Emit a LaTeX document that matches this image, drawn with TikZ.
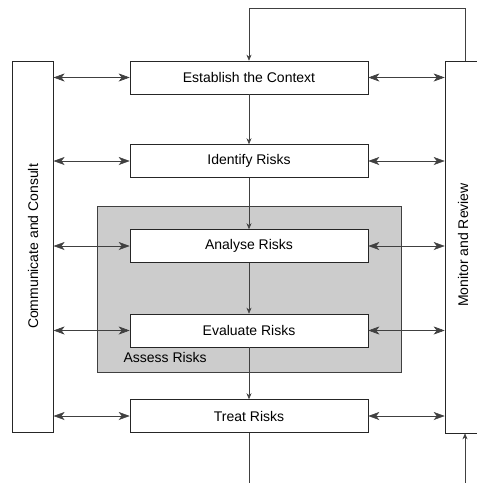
\documentclass[tikz,border=0pt]{standalone}
\usepackage{fontspec}
\setmainfont{Liberation Sans}
\usetikzlibrary{arrows.meta,positioning}

\tikzset{
  stepbox/.style={draw=black!85, line width=0.6pt, fill=white, minimum width=238pt, minimum height=33pt,
    inner sep=0pt, font=\fontsize{14}{16}\selectfont},
  sidebox/.style={draw=black!85, line width=0.6pt, fill=white, minimum height=371pt, inner sep=0pt},
  flow/.style={draw=black!75, line width=0.6pt, -{Stealth[length=6pt,width=5pt]}},
  talk/.style={draw=black!75, line width=0.6pt, {Stealth[length=11pt,width=8pt,inset=3pt]}-{Stealth[length=11pt,width=8pt,inset=3pt]}},
}

\begin{document}
\begin{tikzpicture}[x=1pt,y=-1pt]
    \clip (0,0) rectangle (477,483);
    \fill[white] (0,0) rectangle (477,483);

    % assess risks area
    \node[draw=black!75, line width=0.6pt, fill=black!20, minimum width=304pt, minimum height=166pt, inner sep=0pt]
      (assess) at (249,289) {};
    \node[anchor=west, font=\fontsize{14}{16}\selectfont] (assesslabel) at (120,357) {Assess Risks};

    % process steps
    \node[stepbox] (est) at (249,77.5) {Establish the Context};
    \node[stepbox] (ident) at (249,161) {Identify Risks};
    \node[stepbox] (anal) at (249,246) {Analyse Risks};
    \node[stepbox] (eval) at (249,330.5) {Evaluate Risks};
    \node[stepbox] (treat) at (249,416) {Treat Risks};

    % side columns
    \node[sidebox, minimum width=40.5pt] (comm) at (33,246.5) {};
    \node[rotate=90, font=\fontsize{14}{16}\selectfont] (commtext) at (comm) {Communicate and Consult};
    \node[sidebox, minimum width=40pt, minimum height=372pt] (mon) at (465,247) {};
    \node[rotate=90, font=\fontsize{14}{16}\selectfont] (montext) at (463,245) {Monitor and Review};

    % flow down
    \draw[flow] (est) -- (ident);
    \draw[flow] (ident) -- (anal);
    \draw[flow] (anal) -- (eval);
    \draw[flow] (eval) -- (treat);
    \coordinate (treatout) at (249,483);
    \draw[draw=black!75, line width=0.6pt] (treat) -- (treatout);

    % feedback loop
    \draw[flow] (mon.north) -- ++(0,-52) -| (est.north);
    \coordinate (monin) at (465,483);
    \draw[flow] (monin) -- (mon.south);

    % communication both ways
    \foreach \s in {est,ident,anal,eval,treat} {
      \draw[talk] (comm.east |- \s.west) -- (\s.west);
      \draw[talk] (\s.east) -- (mon.west |- \s.east);
    }
\end{tikzpicture}
\end{document}
